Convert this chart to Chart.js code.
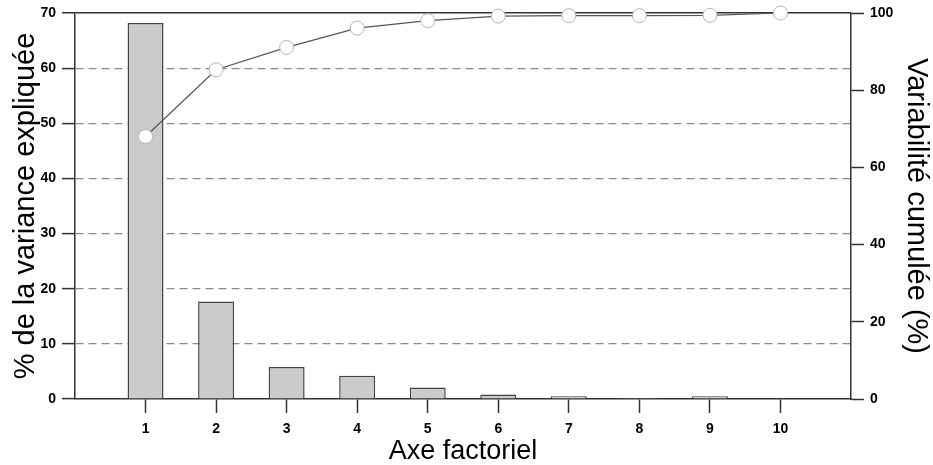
<!DOCTYPE html>
<html>
<head>
<meta charset="utf-8">
<script src="https://cdn.jsdelivr.net/npm/chart.js@4"></script>
<style>
  html, body { margin: 0; padding: 0; background: #fff; }
</style>
</head>
<body>
<canvas id="myChart" width="933" height="465"></canvas>
<script>
// data
var factors = [1, 2, 3, 4, 5, 6, 7, 8, 9, 10];
var variance = [68.2, 17.7, 5.8, 4.2, 2.1, 0.8, 0.5, 0.2, 0.5, 0.1];
var cumulative = [68.0, 85.3, 91.1, 96.1, 98.0, 99.2, 99.3, 99.3, 99.4, 100];
var leftTicks = { min: 0, max: 70, step: 10 };
var rightTicks = { min: 0, max: 100, step: 20 };

Chart.defaults.font.family = "'Liberation Sans', Arial, sans-serif";
Chart.defaults.color = "#000";

var tickFont = { size: 14, weight: "bold", lineHeight: 1 };
var axisColor = "#333";

var ctx = document.getElementById("myChart").getContext("2d");
var myChart = new Chart(ctx, {
  data: {
    datasets: [
      {
        type: "line",
        label: "cumul",
        data: factors.map(function (f, i) { return { x: f, y: cumulative[i] }; }),
        yAxisID: "y2",
        borderColor: "#555",
        borderWidth: 1.2,
        pointRadius: 7,
        pointBackgroundColor: "#fff",
        pointBorderColor: "#b5b5b5",
        pointBorderWidth: 1,
        tension: 0,
        clip: false,
        order: 0,
      },
      {
        type: "bar",
        label: "variance",
        data: factors.map(function (f, i) { return { x: f, y: variance[i] }; }),
        yAxisID: "y",
        backgroundColor: "#cbcbcb",
        borderColor: "#444",
        borderWidth: 1.5,
        barPercentage: 0.51,
        categoryPercentage: 1,
        order: 1,
      },
    ],
  },
  options: {
    responsive: false,
    animation: false,
    layout: { padding: { top: 12, left: 0, right: 0, bottom: 0 } },
    plugins: { legend: { display: false }, tooltip: { enabled: false } },
    scales: {
      x: {
        type: "linear",
        min: 0,
        max: 11,
        offset: false,
        afterFit: function (s) { s.height = 66; },
        ticks: {
          stepSize: 1,
          autoSkip: false,
          maxRotation: 0,
          padding: 9,
          font: tickFont,
          callback: function (v) { return v >= 1 && v <= 10 ? v : ""; },
        },
        grid: {
          offset: false,
          drawOnChartArea: false,
          tickLength: 14,
          tickWidth: 1.5,
          tickColor: function (c) {
            return c.tick && (c.tick.value < 1 || c.tick.value > 10) ? "rgba(0,0,0,0)" : axisColor;
          },
        },
        border: { display: true, color: axisColor, width: 1.5 },
        title: {
          display: true,
          text: "Axe factoriel",
          font: { size: 27, lineHeight: 1 },
          padding: { top: 0, bottom: 0 },
        },
      },
      y: {
        position: "left",
        min: leftTicks.min,
        max: leftTicks.max,
        afterFit: function (s) { s.width = 75; },
        ticks: { stepSize: leftTicks.step, padding: 6, font: tickFont },
        grid: {
          color: function (c) {
            if (!c.tick) return "#8c8c8c";
            if (c.tick.value === 0) return "rgba(0,0,0,0)";
            return c.tick.value === 70 ? axisColor : "#8c8c8c";
          },
          lineWidth: function (c) { return c.tick && c.tick.value === 70 ? 1.5 : 1.2; },
          tickColor: axisColor,
          tickLength: 13,
          tickWidth: 1.5,
          tickBorderDash: [],
        },
        border: {
          display: true,
          color: axisColor,
          width: 1.5,
          dash: function (c) { return c.tick && c.tick.value === 70 ? [] : [8, 5]; },
        },
        title: {
          display: true,
          text: "% de la variance expliquée",
          font: { size: 29, lineHeight: 1 },
          padding: { top: 11, bottom: 0 },
        },
      },
      y2: {
        position: "right",
        min: rightTicks.min,
        max: rightTicks.max,
        afterFit: function (s) { s.width = 82; },
        ticks: { stepSize: rightTicks.step, padding: 6, font: tickFont },
        grid: {
          drawOnChartArea: false,
          tickColor: axisColor,
          tickLength: 13,
          tickWidth: 1.5,
        },
        border: { display: true, color: axisColor, width: 1.5 },
        title: {
          display: true,
          text: "Variabilité cumulée (%)",
          font: { size: 29, lineHeight: 1 },
          padding: { top: 3, bottom: 0 },
        },
      },
    },
  },
});
</script>
</body>
</html>
